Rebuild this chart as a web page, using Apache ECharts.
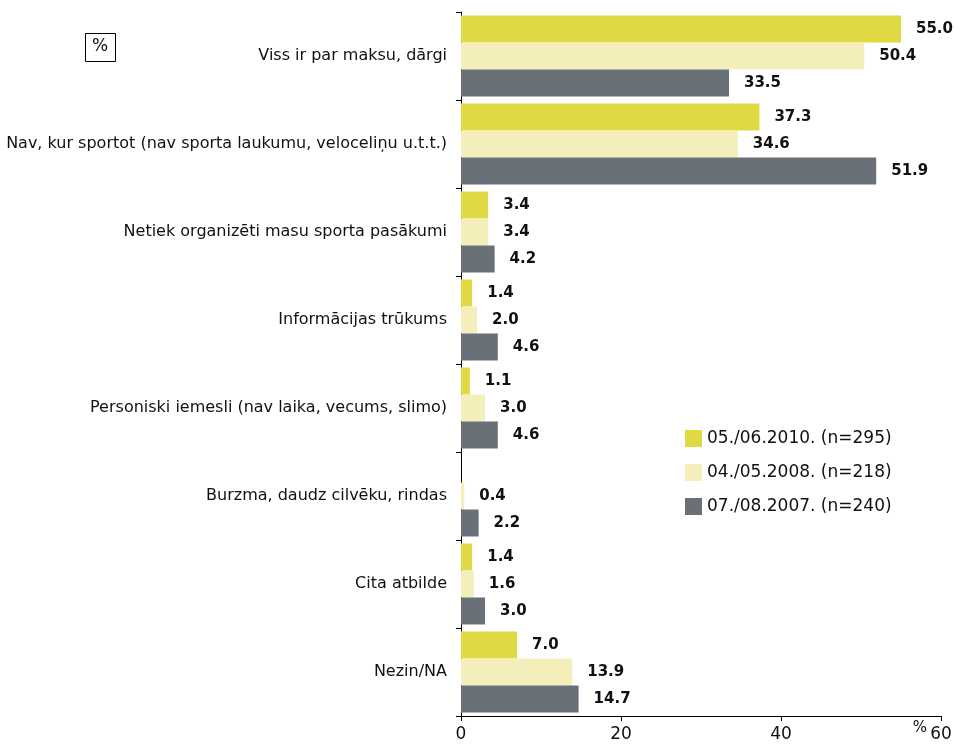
<!DOCTYPE html>
<html><head><meta charset="utf-8">
<script src="https://cdn.jsdelivr.net/npm/echarts@6/dist/echarts.min.js"></script>
<style>html,body{margin:0;padding:0;background:#fff}#c{width:955px;height:748px}</style>
</head><body><div id="c"></div>
<script>
const categories = [
  "Viss ir par maksu, dārgi",
  "Nav, kur sportot (nav sporta laukumu, veloceliņu u.t.t.)",
  "Netiek organizēti masu sporta pasākumi",
  "Informācijas trūkums",
  "Personiski iemesli (nav laika, vecums, slimo)",
  "Burzma, daudz cilvēku, rindas",
  "Cita atbilde",
  "Nezin/NA"
];
const seriesNames = ["05./06.2010. (n=295)", "04./05.2008. (n=218)", "07./08.2007. (n=240)"];
const values2010 = [55.0, 37.3, 3.4, 1.4, 1.1, null, 1.4, 7.0];
const values2008 = [50.4, 34.6, 3.4, 2.0, 3.0, 0.4, 1.6, 13.9];
const values2007 = [33.5, 51.9, 4.2, 4.6, 4.6, 2.2, 3.0, 14.7];
const xTicks = [0, 20, 40, 60];

const colors = ["#dfd943", "#f4efba", "#697077"];
const font = "'DejaVu Sans', sans-serif";
const chart = echarts.init(document.getElementById('c'));
const mk = (name, data, color) => ({
  name, type: 'bar', data, barGap: '0%', barCategoryGap: '8%',
  itemStyle: { color },
  label: { show: true, position: 'right', distance: 15, color: '#111', fontWeight: 'bold', fontSize: 15, fontFamily: font,
    formatter: p => (p.value == null ? '' : Number(p.value).toFixed(1)) },
  emphasis: { disabled: true }
});
chart.setOption({
  animation: false,
  textStyle: { fontFamily: font },
  grid: { left: 461, right: 14, top: 12, bottom: 32 },
  legend: {
    orient: 'vertical', left: 680, top: 425, itemWidth: 17, itemHeight: 17, itemGap: 17,
    icon: 'rect', textStyle: { fontSize: 17, color: '#111', fontFamily: font },
    data: seriesNames
  },
  xAxis: {
    type: 'value', min: xTicks[0], max: xTicks[xTicks.length - 1], interval: 20,
    splitLine: { show: false },
    axisLine: { show: true, lineStyle: { color: '#000', width: 1 } },
    axisTick: { show: true, length: 5, lineStyle: { color: '#000' } },
    axisLabel: { fontSize: 17, color: '#111', margin: 10, fontFamily: font }
  },
  yAxis: {
    type: 'category', data: categories, inverse: true,
    axisLine: { show: true, lineStyle: { color: '#000', width: 1 } },
    axisTick: { show: true, length: 5, lineStyle: { color: '#000' } },
    axisLabel: { fontSize: 16, color: '#111', margin: 14, fontFamily: font }
  },
  graphic: [
    { type: 'rect', left: 85, top: 33, shape: { width: 30, height: 28 }, style: { fill: '#fff', stroke: '#000', lineWidth: 1 } },
    { type: 'text', style: { x: 100, y: 47, text: '%', align: 'center', verticalAlign: 'middle', fontSize: 17, fill: '#111', fontFamily: font } },
    { type: 'text', style: { x: 920, y: 728, text: '%', align: 'center', verticalAlign: 'middle', fontSize: 15, fill: '#111', fontFamily: font } }
  ],
  series: [
    mk(seriesNames[0], values2010, colors[0]),
    mk(seriesNames[1], values2008, colors[1]),
    mk(seriesNames[2], values2007, colors[2])
  ]
});
</script></body></html>
